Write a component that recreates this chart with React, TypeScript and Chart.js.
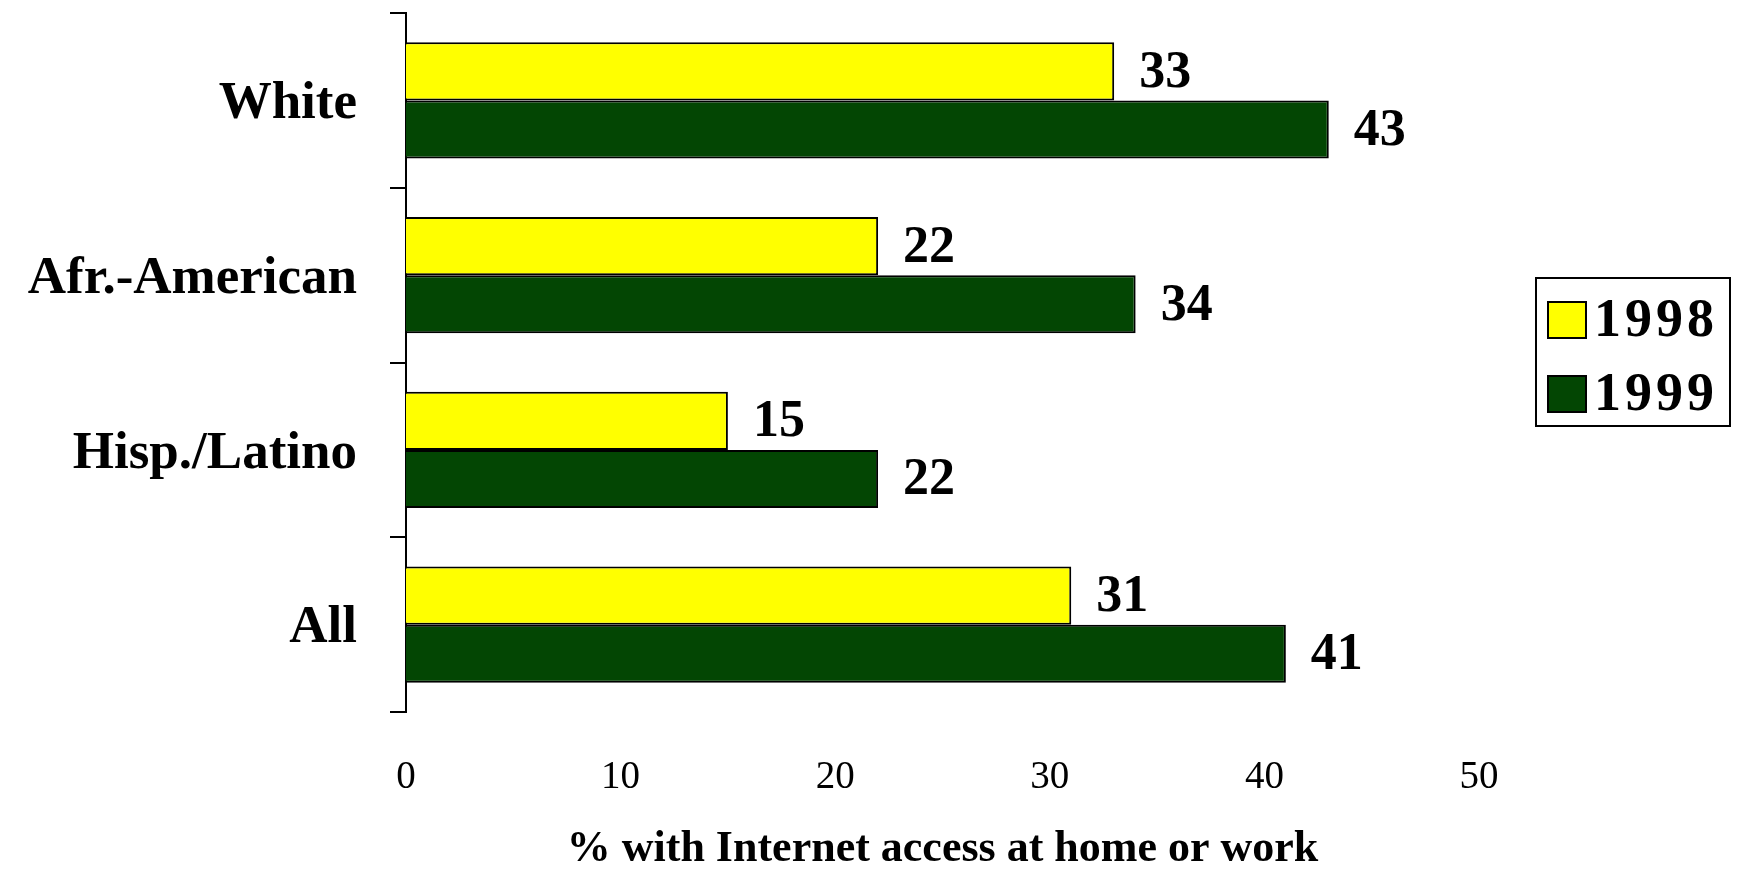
import React, { useEffect, useRef } from "react";
import { Chart, registerables } from "chart.js";

Chart.register(...registerables);

const categories = ["White", "Afr.-American", "Hisp./Latino", "All"];
const values1998 = [33, 22, 15, 31];
const values1999 = [43, 34, 22, 41];
const seriesNames = ["1998", "1999"];
const xTicks = [0, 10, 20, 30, 40, 50];
const axisTitle = "% with Internet access at home or work";

const SERIF = "'Liberation Serif', 'Times New Roman', serif";

const valueLabelPlugin = {
  id: "valueLabels",
  afterDatasetsDraw(chart: any) {
    const ctx = chart.ctx;
    ctx.save();
    ctx.font = `bold 52px ${SERIF}`;
    ctx.fillStyle = "#000";
    ctx.textAlign = "left";
    ctx.textBaseline = "middle";
    chart.data.datasets.forEach((ds: any, di: number) => {
      const meta = chart.getDatasetMeta(di);
      meta.data.forEach((bar: any, i: number) => {
        ctx.fillText(String(ds.data[i]), bar.x + 25, bar.y + 2);
      });
    });
    ctx.restore();
  },
};

const legendPlugin = {
  id: "boxLegend",
  afterDraw(chart: any) {
    const ctx = chart.ctx;
    ctx.save();
    const bx = 1536, by = 278, bw = 194, bh = 148;
    ctx.fillStyle = "#fff";
    ctx.fillRect(bx, by, bw, bh);
    ctx.strokeStyle = "#000";
    ctx.lineWidth = 2;
    ctx.strokeRect(bx, by, bw, bh);
    ctx.font = `bold 54px ${SERIF}`;
    (ctx as any).letterSpacing = "4px";
    ctx.textBaseline = "middle";
    ctx.textAlign = "left";
    chart.data.datasets.forEach((ds: any, i: number) => {
      const cy = by + 42 + i * 74;
      ctx.fillStyle = ds.backgroundColor;
      ctx.fillRect(1548, cy - 18, 38, 36);
      ctx.strokeStyle = "#000";
      ctx.lineWidth = 2;
      ctx.strokeRect(1548, cy - 18, 38, 36);
      ctx.fillStyle = "#000";
      ctx.fillText(ds.label, 1594, cy + 2);
    });
    (ctx as any).letterSpacing = "0px";
    ctx.restore();
  },
};

export default function App() {
  const ref = useRef<HTMLCanvasElement>(null);
  useEffect(() => {
    if (!ref.current) return;
    const chart = new Chart(ref.current, {
      type: "bar",
      data: {
        labels: categories,
        datasets: [
          {
            label: seriesNames[0],
            data: values1998,
            backgroundColor: "#FFFF00",
            borderColor: "#000",
            borderWidth: 2,
            barPercentage: 1,
            categoryPercentage: 0.664,
          },
          {
            label: seriesNames[1],
            data: values1999,
            backgroundColor: "#034603",
            borderColor: "#000",
            borderWidth: 2,
            barPercentage: 1,
            categoryPercentage: 0.664,
          },
        ],
      },
      options: {
        indexAxis: "y",
        responsive: false,
        animation: false,
        devicePixelRatio: 1,
        layout: { padding: { top: 13, right: 258, bottom: 0, left: 0 } },
        plugins: {
          legend: { display: false },
          tooltip: { enabled: false },
        },
        scales: {
          x: {
            min: 0,
            max: 50,
            afterBuildTicks(scale: any) {
              scale.ticks = xTicks.map((v) => ({ value: v }));
            },
            grid: { display: false, drawTicks: false },
            border: { display: false },
            ticks: {
              color: "#000",
              padding: 42,
              font: { family: SERIF, size: 39, weight: "normal" },
              maxRotation: 0,
            },
            title: {
              display: true,
              text: axisTitle,
              color: "#000",
              padding: 0,
              font: { family: SERIF, size: 44, weight: "bold", lineHeight: 0.9 },
            },
            afterFit(scale: any) {
              scale.height = 157;
              scale.paddingLeft = 0;
              scale.paddingRight = 0;
            },
          },
          y: {
            grid: {
              display: true,
              drawOnChartArea: false,
              drawTicks: true,
              tickLength: 16,
              color: "#000",
              lineWidth: 2,
              offset: true,
            },
            border: { display: true, color: "#000", width: 2 },
            ticks: {
              color: "#000",
              padding: 33,
              labelOffset: 4,
              font: { family: SERIF, size: 53, weight: "bold" },
            },
            afterFit(scale: any) {
              scale.width = 406;
              scale.paddingTop = 0;
              scale.paddingBottom = 0;
            },
          },
        },
      },
      plugins: [valueLabelPlugin, legendPlugin],
    } as any);
    return () => chart.destroy();
  }, []);
  return (
    <div style={{ position: "absolute", left: 0, top: 0, width: 1737, height: 869, background: "#fff" }}>
      <canvas ref={ref} width={1737} height={869} style={{ display: "block" }} />
    </div>
  );
}
